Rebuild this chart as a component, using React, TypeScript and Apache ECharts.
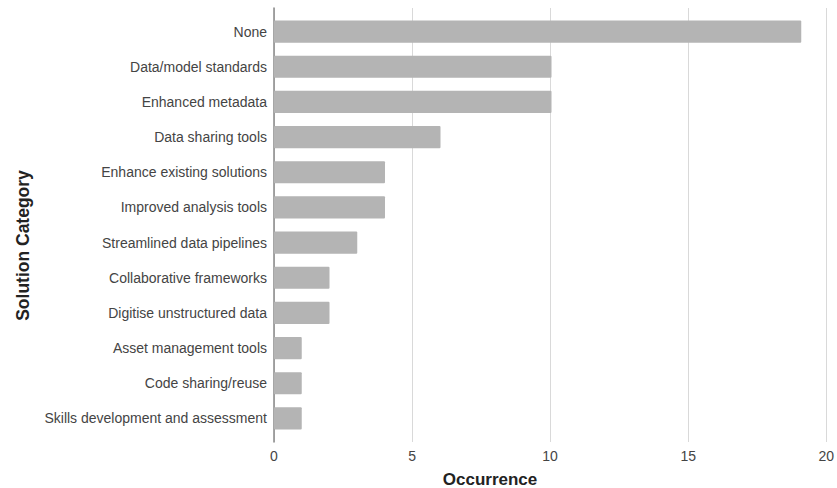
import React, { useEffect, useRef } from "react";
import * as echarts from "echarts";

const categories = [
  "None",
  "Data/model standards",
  "Enhanced metadata",
  "Data sharing tools",
  "Enhance existing solutions",
  "Improved analysis tools",
  "Streamlined data pipelines",
  "Collaborative frameworks",
  "Digitise unstructured data",
  "Asset management tools",
  "Code sharing/reuse",
  "Skills development and assessment",
];
const values = [19, 10, 10, 6, 4, 4, 3, 2, 2, 1, 1, 1];
const xTicks = [0, 5, 10, 15, 20];
const xTitle = "Occurrence";
const yTitle = "Solution Category";

export default function App() {
  const ref = useRef<HTMLDivElement>(null);
  useEffect(() => {
    if (!ref.current) return;
    const chart = echarts.init(ref.current, null, { renderer: "svg" });
    const font = "'Liberation Sans', Arial, sans-serif";
    const xMin = xTicks[0];
    const xMax = xTicks[xTicks.length - 1];
    chart.setOption({
      animation: false,
      textStyle: { fontFamily: font },
      grid: [
        { left: 274, right: 8, top: 8, bottom: 46 },
        { left: 274, right: 8, top: 14, bottom: 52 },
      ],
      graphic: [
        {
          type: "text",
          x: 490,
          y: 479,
          style: {
            text: xTitle,
            fontFamily: font,
            fontSize: 17,
            fontWeight: "bold",
            fill: "#222",
            align: "center",
            verticalAlign: "middle",
          },
        },
        {
          type: "text",
          x: 23,
          y: 245.5,
          rotation: Math.PI / 2,
          style: {
            text: yTitle,
            fontFamily: font,
            fontSize: 17.5,
            fontWeight: "bold",
            fill: "#222",
            align: "center",
            verticalAlign: "middle",
          },
        },
      ],
      xAxis: [
        {
          type: "value",
          gridIndex: 0,
          min: xMin,
          max: xMax,
          interval: 5,
          axisLine: { show: false },
          axisTick: { show: false },
          axisLabel: { color: "#444", fontSize: 14, margin: 7, fontFamily: font },
          splitLine: { show: true, lineStyle: { color: "#d9d9d9", width: 1 } },
        },
        {
          type: "value",
          gridIndex: 1,
          min: xMin,
          max: xMax,
          interval: 5,
          show: false,
          splitLine: { show: false },
        },
      ],
      yAxis: [
        {
          type: "value",
          gridIndex: 0,
          min: 0,
          max: 1,
          axisLine: { show: true, onZero: false, lineStyle: { color: "#888", width: 1.5 } },
          axisTick: { show: false },
          axisLabel: { show: false },
          splitLine: { show: false },
        },
        {
          type: "category",
          gridIndex: 1,
          data: categories,
          inverse: true,
          axisLine: { show: false },
          axisTick: { show: false },
          axisLabel: { color: "#444", fontSize: 14, margin: 7, fontFamily: font },
        },
      ],
      series: [
        {
          type: "bar",
          xAxisIndex: 1,
          yAxisIndex: 1,
          data: values,
          barCategoryGap: "37%",
          itemStyle: { color: "#b4b4b4", borderRadius: 1 },
        },
      ],
    });
    return () => chart.dispose();
  }, []);
  return <div ref={ref} style={{ width: 837, height: 488, position: "absolute", left: 0, top: 0 }} />;
}
